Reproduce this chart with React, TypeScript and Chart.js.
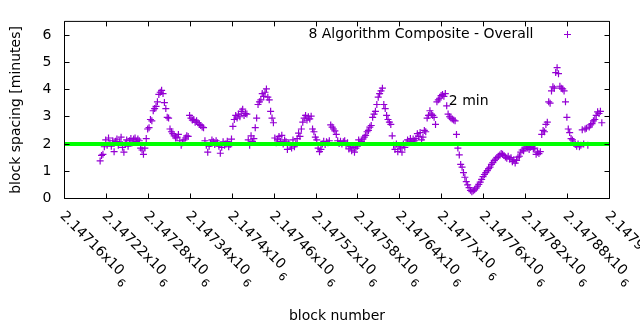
import React, { useEffect, useRef } from 'react';
import { Chart, registerables } from 'chart.js';

Chart.register(...registerables);

const FONT = '"DejaVu Sans", sans-serif';

// ---- data ----
const FIRST_BLOCK = 2147211; // first sampled block
const BLOCK_STEP = 2; // one sample every 2 blocks
const spacingMinutes: number[] = [
  1.38, 1.58, 1.62, 1.90, 2.15,
  1.95, 2.22, 2.05, 1.92, 2.12,
  1.72, 2.10, 2.18, 1.95, 2.08,
  2.25, 1.88, 1.70, 2.02, 2.15,
  1.92, 2.12, 2.20, 2.05, 2.18,
  2.22, 2.10, 2.18, 2.12, 1.85,
  1.78, 1.62, 1.85, 2.20, 2.55,
  2.60, 2.90, 2.85, 3.22, 3.30,
  3.38, 3.55, 3.82, 3.90, 3.97,
  3.85, 3.52, 3.30, 2.98, 2.95,
  2.55, 2.45, 2.38, 2.30, 2.22,
  2.25, 2.35, 2.12, 1.95, 2.05,
  2.15, 2.22, 2.30, 2.28, 3.05,
  2.95, 2.88, 2.90, 2.80, 2.85,
  2.78, 2.72, 2.68, 2.62, 2.60,
  2.12, 1.95, 1.70, 1.92, 2.02,
  2.15, 2.08, 1.98, 2.12, 2.05,
  1.92, 1.66, 1.88, 2.08, 1.95,
  2.00, 2.10, 1.90, 1.98, 2.18,
  2.65, 2.90, 3.05, 2.95, 3.10,
  3.00, 3.20, 3.28, 3.05, 3.12,
  3.10, 2.15, 1.95, 2.30, 2.10,
  2.20, 2.60, 2.95, 3.45, 3.55,
  3.62, 3.85, 3.75, 3.90, 4.02,
  3.72, 3.62, 3.20, 2.95, 2.78,
  2.22, 2.05, 2.18, 2.28, 2.10,
  2.32, 2.00, 2.15, 2.08, 1.80,
  2.05, 1.95, 1.85, 2.15, 1.90,
  2.00, 2.20, 2.40, 2.28, 2.55,
  2.80, 2.95, 3.05, 2.88, 3.00,
  2.92, 3.02, 2.55, 2.45, 2.25,
  2.15, 1.85, 1.72, 1.80, 2.00,
  2.10, 1.98, 2.08, 2.05, 2.12,
  2.70, 2.62, 2.55, 2.48, 2.35,
  2.12, 2.02, 2.10, 2.00, 2.08,
  2.12, 1.95, 2.05, 1.82, 1.90,
  1.75, 1.88, 1.70, 1.85, 1.92,
  2.15, 2.05, 2.10, 2.18, 2.25,
  2.32, 2.45, 2.50, 2.62, 2.68,
  2.98, 3.10, 3.20, 3.45, 3.72,
  3.85, 3.95, 4.05, 3.45, 3.30,
  3.05, 2.90, 2.80, 2.72, 2.30,
  1.95, 1.80, 2.00, 1.72, 1.90,
  1.85, 1.70, 2.00, 1.88, 2.05,
  2.15, 2.05, 2.20, 2.10, 2.18,
  2.12, 2.20, 2.38, 2.28, 2.42,
  2.15, 2.25, 2.50, 2.45, 2.95,
  3.05, 3.22, 3.10, 3.05, 2.98,
  2.72, 3.55, 3.62, 3.68, 3.78,
  3.82, 3.75, 3.85, 3.40, 3.10,
  3.00, 2.95, 2.92, 2.88, 2.85,
  2.35, 1.85, 1.60, 1.25, 1.15,
  0.95, 0.78, 0.62, 0.50, 0.40,
  0.30, 0.25, 0.28, 0.32, 0.38,
  0.45, 0.52, 0.60, 0.70, 0.80,
  0.88, 0.95, 1.02, 1.10, 1.15,
  1.25, 1.32, 1.40, 1.45, 1.50,
  1.55, 1.60, 1.65, 1.62, 1.58,
  1.52, 1.48, 1.55, 1.45, 1.50,
  1.35, 1.42, 1.30, 1.40, 1.52,
  1.55, 1.70, 1.78, 1.75, 1.85,
  1.92, 1.85, 1.80, 1.88, 1.92,
  1.82, 1.85, 1.62, 1.70, 1.65,
  1.72, 2.35, 2.50, 2.45, 2.72,
  2.80, 3.55, 3.50, 3.95, 4.10,
  4.05, 4.62, 4.80, 4.58, 4.12,
  4.05, 4.02, 3.95, 3.55, 2.98,
  2.55, 2.42, 2.20, 2.15, 2.05,
  1.98, 1.92, 2.00, 1.90, 1.95,
  2.52, 2.00, 2.55, 2.58, 1.95,
  2.62, 2.70, 2.75, 2.85, 2.90,
  3.05, 3.18, 3.12, 3.20, 2.78,
];
const blockNumbers: number[] = spacingMinutes.map((_, i) => FIRST_BLOCK + i * BLOCK_STEP);

const X_MIN = 2147160;
const X_MAX = 2147940;
const X_TICK_STEP = 60;
const Y_MIN = 0;
const Y_MAX = 6.5;
const Y_TICK_STEP = 1;

const TARGET_MINUTES = 2;
const targetBlocks = [X_MIN, X_MAX];
const targetValues = [TARGET_MINUTES, TARGET_MINUTES];

const SERIES_LABEL = '8 Algorithm Composite - Overall';
const TARGET_LABEL = '2 min';
const TARGET_LABEL_BLOCK = 2147710;
const TARGET_LABEL_VALUE = 3.55;
const X_TITLE = 'block number';
const Y_TITLE = 'block spacing [minutes]';
const X_EXPONENT = '6';

const POINT_COLOR = '#9400d3';
const TARGET_COLOR = '#00ff00';

function tickMantissa(v: number): string {
  return String(parseFloat((v / 1e6).toFixed(6))) + 'x10';
}

const gnuplotDecor = {
  id: 'gnuplotDecor',
  afterDatasetsDraw(chart: any) {
    const { ctx, chartArea } = chart;
    const { left, right, top, bottom } = chartArea;
    const xs = chart.scales.x;
    const ys = chart.scales.y;
    const TL = 5;
    ctx.save();
    // frame + inward ticks
    ctx.strokeStyle = '#000';
    ctx.lineWidth = 1;
    ctx.beginPath();
    ctx.rect(left, top, right - left, bottom - top);
    xs.ticks.forEach((t: any) => {
      const px = Math.floor(xs.getPixelForValue(t.value)) + 0.5;
      ctx.moveTo(px, bottom);
      ctx.lineTo(px, bottom - TL);
      ctx.moveTo(px, top);
      ctx.lineTo(px, top + TL);
    });
    ys.ticks.forEach((t: any) => {
      const py = Math.floor(ys.getPixelForValue(t.value)) + 0.5;
      ctx.moveTo(left, py);
      ctx.lineTo(left + TL, py);
      ctx.moveTo(right, py);
      ctx.lineTo(right - TL, py);
    });
    ctx.stroke();

    // rotated x tick labels
    ctx.fillStyle = '#000';
    ctx.textAlign = 'left';
    ctx.textBaseline = 'alphabetic';
    xs.ticks.forEach((t: any) => {
      const px = xs.getPixelForValue(t.value);
      const main = tickMantissa(t.value);
      ctx.save();
      ctx.translate(px - 5, bottom + 18);
      ctx.rotate(Math.PI / 4);
      ctx.font = '14px ' + FONT;
      ctx.fillText(main, 0, 0);
      const w = ctx.measureText(main).width;
      ctx.font = '11px ' + FONT;
      ctx.fillText(X_EXPONENT, w + 3, 7);
      ctx.restore();
    });

    // "2 min" label
    ctx.font = '14px ' + FONT;
    ctx.textBaseline = 'middle';
    ctx.fillText(
      TARGET_LABEL,
      xs.getPixelForValue(TARGET_LABEL_BLOCK),
      ys.getPixelForValue(TARGET_LABEL_VALUE)
    );

    // key (legend) inside the plot, top right
    ctx.textAlign = 'right';
    ctx.textBaseline = 'alphabetic';
    ctx.fillText(SERIES_LABEL, right - 76, top + 17);
    const mx = Math.floor(right - 42) + 0.5;
    const my = Math.floor(top + 13) + 0.5;
    ctx.strokeStyle = POINT_COLOR;
    ctx.beginPath();
    ctx.moveTo(mx - 3.5, my);
    ctx.lineTo(mx + 3.5, my);
    ctx.moveTo(mx, my - 3.5);
    ctx.lineTo(mx, my + 3.5);
    ctx.stroke();
    ctx.restore();
  },
};

export default function App() {
  const canvasRef = useRef<HTMLCanvasElement | null>(null);

  useEffect(() => {
    const canvas = canvasRef.current;
    if (!canvas) return;
    const chart = new Chart(canvas, {
      type: 'scatter',
      data: {
        datasets: [
          {
            label: TARGET_LABEL,
            data: targetBlocks.map((b, i) => ({ x: b, y: targetValues[i] })),
            showLine: true,
            borderColor: TARGET_COLOR,
            backgroundColor: TARGET_COLOR,
            borderWidth: 4,
            pointRadius: 0,
          } as any,
          {
            label: SERIES_LABEL,
            data: blockNumbers.map((b, i) => ({ x: b, y: spacingMinutes[i] })),
            pointStyle: 'cross',
            pointRadius: 3.5,
            borderColor: POINT_COLOR,
            backgroundColor: POINT_COLOR,
            borderWidth: 1.2,
            showLine: false,
          } as any,
        ],
      },
      options: {
        responsive: false,
        animation: false,
        devicePixelRatio: 1,
        events: [],
        layout: { padding: { left: 0, right: 30.5, top: 19.5, bottom: 0 } },
        plugins: {
          legend: { display: false },
          tooltip: { enabled: false },
        },
        scales: {
          x: {
            type: 'linear',
            min: X_MIN,
            max: X_MAX,
            grid: { display: false, drawTicks: false },
            border: { display: false },
            ticks: { display: false, stepSize: X_TICK_STEP, includeBounds: false },
            title: {
              display: true,
              text: X_TITLE,
              color: '#000',
              font: { family: FONT, size: 14 },
              padding: { top: 0, bottom: 5 },
            },
            afterFit: (scale: any) => {
              scale.height = 131.5;
            },
          },
          y: {
            type: 'linear',
            min: Y_MIN,
            max: Y_MAX,
            grid: { display: false, drawTicks: false },
            border: { display: false },
            ticks: {
              stepSize: Y_TICK_STEP,
              includeBounds: false,
              color: '#000',
              padding: 13,
              font: { family: FONT, size: 14 },
            },
            title: {
              display: true,
              text: Y_TITLE,
              color: '#000',
              font: { family: FONT, size: 14 },
              padding: { top: 8, bottom: 0 },
            },
            afterFit: (scale: any) => {
              scale.width = 64.5;
            },
          },
        },
      } as any,
      plugins: [gnuplotDecor],
    });
    return () => chart.destroy();
  }, []);

  return (
    <div style={{ position: 'fixed', left: 0, top: 0, width: 640, height: 330, background: '#fff' }}>
      <canvas ref={canvasRef} width={640} height={330} style={{ display: 'block' }} />
    </div>
  );
}
